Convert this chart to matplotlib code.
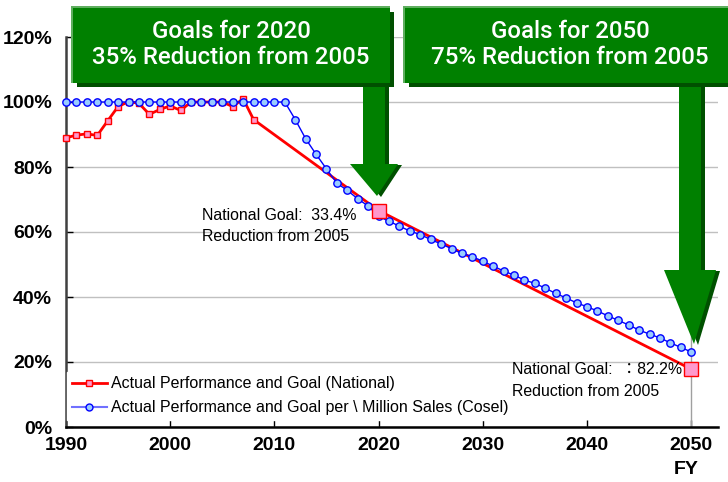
import matplotlib
matplotlib.use("Agg")
import matplotlib.pyplot as plt
from matplotlib.patches import Polygon
from matplotlib.lines import Line2D

# ---------------- data ----------------
red_years = list(range(1990, 2009))
red_actual = [89.0, 89.8, 90.2, 89.7, 94.2, 98.6, 100.1, 99.6, 96.2, 97.7,
              98.8, 97.4, 100.0, 100.0, 100.0, 100.0, 98.6, 101.0, 94.6]
goal_years = [2020, 2050]
red_goal = [66.6, 17.8]

blue_years = list(range(1990, 2051))
blue_vals = [100.0] * 22 + [
    94.6, 88.7, 83.9, 79.4, 75.0, 72.8, 70.2, 68.0, 64.8,
    63.3, 61.8, 60.3, 59.2, 57.7, 56.3, 54.9, 53.4, 52.4, 51.0,
    49.5, 48.0, 46.7, 45.2, 44.2, 42.7, 41.1, 39.7, 38.2, 37.0,
    35.7, 34.2, 32.8, 31.4, 29.8, 28.6, 27.4, 25.9, 24.5, 23.1]

x_ticks = [1990, 2000, 2010, 2020, 2030, 2040, 2050]
y_ticks = [0, 20, 40, 60, 80, 100, 120]
y_labels = ["0%", "20%", "40%", "60%", "80%", "100%", "120%"]

legend_labels = ["Actual Performance and Goal (National)",
                 "Actual Performance and Goal per \\ Million Sales (Cosel)"]
box1_lines = ["Goals for 2020", "35% Reduction from 2005"]
box2_lines = ["Goals for 2050", "75% Reduction from 2005"]
note_2020 = ["National Goal:  33.4%", "Reduction from 2005"]
note_2050 = ["National Goal:  \uff1a82.2%", "Reduction from 2005"]

# ---------------- figure ----------------
W, H = 728, 482
fig = plt.figure(figsize=(W / 100, H / 100), dpi=100)
fig.patch.set_facecolor("white")

def fx(x):
    return x / W

def fy(y):
    return 1 - y / H

ax = fig.add_axes([fx(66), fy(427), fx(718) - fx(66), fy(37) - fy(427)])
ax.set_xlim(1990, 1990 + (718 - 66) / 10.42)
ax.set_ylim(0, 120)

bold_font = ["Liberation Sans", "DejaVu Sans"]
reg_font = ["Liberation Sans", "Noto Sans CJK JP", "DejaVu Sans"]
box_font = ["Roboto", "Liberation Sans", "DejaVu Sans"]

ax.set_yticks(y_ticks)
ax.set_yticklabels(y_labels, fontsize=14, fontweight="bold", family=bold_font)
ax.set_xticks(x_ticks)
ax.set_xticklabels([str(v) for v in x_ticks], fontsize=14, fontweight="bold", family=bold_font)
ax.tick_params(axis="both", direction="in", length=5, width=1, colors="black")
ax.tick_params(axis="y", pad=10)
ax.tick_params(axis="x", pad=7)

ax.grid(axis="y", color="#c0c0c0", linewidth=1)
ax.set_axisbelow(True)
for s in ["top", "right"]:
    ax.spines[s].set_visible(False)
ax.spines["left"].set_color("#404040")
ax.spines["left"].set_linewidth(1.8)
ax.spines["bottom"].set_color("black")
ax.spines["bottom"].set_linewidth(1.8)
ax.axvline(2050, color="#a0a0a0", linewidth=1, zorder=1)

# red line (actual + goal)
ax.plot(red_years + goal_years, red_actual + red_goal, color="#ff0000", lw=2, zorder=3)
ax.plot(red_years, red_actual, ls="none", marker="s", ms=5,
        mfc="#ff99cc", mec="#ff0000", mew=1, zorder=4, clip_on=False)
# blue line
ax.plot(blue_years, blue_vals, color="#0000ff", lw=1, marker="o", ms=5.3,
        mfc="#99ccff", mec="#0000ff", mew=1, zorder=5, clip_on=False)
# big goal squares
ax.plot(goal_years, red_goal, ls="none", marker="s", ms=10,
        mfc="#ff99cc", mec="#ff0000", mew=1, zorder=6, clip_on=False)

# legend
handles = [Line2D([], [], color="#ff0000", lw=2, marker="s", ms=5, mfc="#ff99cc", mec="#ff0000"),
           Line2D([], [], color="#7070ff", lw=1.5, marker="o", ms=5, mfc="#99ccff", mec="#0000ff")]
leg = ax.legend(handles, legend_labels, loc="lower left",
                bbox_to_anchor=(fx(67), fy(420)), bbox_transform=fig.transFigure,
                frameon=True, fancybox=False, framealpha=1, edgecolor="white",
                handlelength=2.2, handletextpad=0.25, labelspacing=0.55,
                borderpad=0.3, borderaxespad=0,
                prop={"family": reg_font, "size": 11.5})
leg.set_zorder(7)

# annotations
for i, line in enumerate(note_2020):
    fig.text(fx(202), fy(215 + 21 * i), line, ha="left", va="center",
             fontsize=11.4, family=reg_font, zorder=8)
for i, line in enumerate(note_2050):
    fig.text(fx(512), fy(370 + 21 * i), line, ha="left", va="center",
             fontsize=11.4, family=reg_font, zorder=8)
fig.text(fx(686), fy(470), "FY", ha="center", va="center",
         fontsize=14, fontweight="bold", family=bold_font)

# ---------------- green boxes and arrows ----------------
GREEN = "#008000"
DARK = "#005000"
LIGHT = "#5fae5f"

def poly(points, color, z):
    p = Polygon([(fx(x), fy(y)) for x, y in points], closed=True,
                transform=fig.transFigure, facecolor=color, edgecolor="none", zorder=z)
    fig.patches.append(p)

def arrow(cx, top, shaft_bottom, shaft_half, head_half, tip_y, tip_x=None, z=10):
    if tip_x is None:
        tip_x = cx
    pts = [(cx - shaft_half, top), (cx + shaft_half, top), (cx + shaft_half, shaft_bottom),
           (cx + head_half, shaft_bottom), (tip_x, tip_y), (cx - head_half, shaft_bottom),
           (cx - shaft_half, shaft_bottom)]
    shadow = [(x + 4, y + 1) for x, y in pts]
    poly(shadow, DARK, z)
    poly(pts, GREEN, z + 0.1)

def box(x0, y0, x1, y1, z=12):
    poly([(x0 + 4, y0 + 4), (x1 + 4, y0 + 4), (x1 + 4, y1 + 4), (x0 + 4, y1 + 4)], DARK, z)
    poly([(x0 - 2, y0 - 2), (x1, y0 - 2), (x1, y1), (x0 - 2, y1)], LIGHT, z + 0.05)
    poly([(x0, y0), (x1, y0), (x1, y1), (x0, y1)], GREEN, z + 0.1)

arrow(374, 80, 164, 11, 24, 196, tip_x=377)
arrow(690, 80, 270, 11, 26, 344, tip_x=694)

box(73, 8, 390, 83)
box(405, 8, 728, 83)

for i, line in enumerate(box1_lines):
    fig.text(fx(231), fy(32 + 26 * i), line, ha="center", va="center", color="white",
             fontsize=17.3, fontweight="medium", family=box_font, zorder=20)
for i, line in enumerate(box2_lines):
    fig.text(fx(570), fy(32 + 26 * i), line, ha="center", va="center", color="white",
             fontsize=17.3, fontweight="medium", family=box_font, zorder=20)

fig.savefig("out.png", dpi=100)
